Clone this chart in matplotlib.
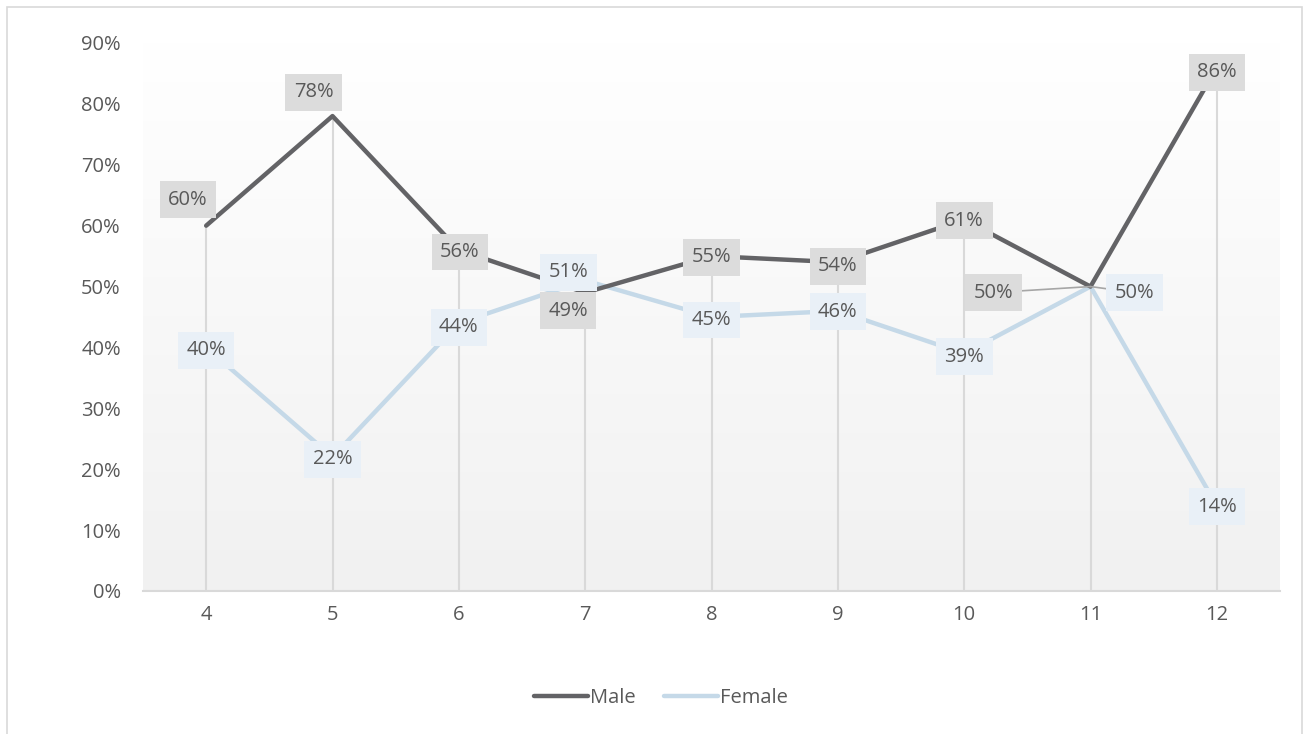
import numpy as np
import matplotlib
matplotlib.use("Agg")
import matplotlib.pyplot as plt
from matplotlib.patches import Rectangle

plt.rcParams["font.family"] = ["Open Sans", "DejaVu Sans"]

grades = [4, 5, 6, 7, 8, 9, 10, 11, 12]
male = [0.60, 0.78, 0.56, 0.49, 0.55, 0.54, 0.61, 0.50, 0.86]
female = [0.40, 0.22, 0.44, 0.51, 0.45, 0.46, 0.39, 0.50, 0.14]

# label offsets in pixels (dx, dy)
male_off = [(-18, 26), (-19, 24), (1, -2), (-17, -18), (0, -1), (0, -4), (0, -1), (-97, -6), (0, -5)]
female_off = [(0, -3), (0, -2), (0, -4), (-17, 8), (0, -3), (0, -1), (0, -3), (44, -6), (0, -1)]

C_MALE, C_FEM = "#636366", "#c5d9e8"
BOX_MALE, BOX_FEM = "#dcdcdc", "#e9f0f7"
TXT = "#595959"
FS = 14.5

fig = plt.figure(figsize=(13.09, 7.34), dpi=100)
fig.patches.append(Rectangle((7 / 1309, -0.1), 1295 / 1309, 1.1 - 7 / 734, transform=fig.transFigure,
                             fill=False, edgecolor="#d9d9d9", linewidth=1.2))
ax = fig.add_axes([143 / 1309, 1 - 591 / 734, 1137 / 1309, 548 / 734])
ax.set_xlim(3.5, 12.5)
ax.set_ylim(0, 0.9)

# plot-area gradient: white at top fading to light grey at bottom
grad = np.linspace(1.0, 0.0, 256).reshape(-1, 1)
top, bot = np.array([1.0, 1.0, 1.0]), np.array([0.945, 0.945, 0.945])
img = bot + (top - bot) * grad[..., None]
ax.imshow(img, extent=[3.5, 12.5, 0, 0.9], aspect="auto", zorder=0)

# drop lines from the higher point of each category
for g, m, f in zip(grades, male, female):
    ax.plot([g, g], [0, max(m, f)], color="#d9d9d9", lw=1.5, zorder=1)

ax.plot(grades, male, color=C_MALE, lw=3.2, solid_capstyle="round", zorder=3, label="Male")
ax.plot(grades, female, color=C_FEM, lw=3.2, solid_capstyle="round", zorder=2, label="Female")

for vals, offs, fc in [(male, male_off, BOX_MALE), (female, female_off, BOX_FEM)]:
    for g, v, (dx, dy) in zip(grades, vals, offs):
        leader = abs(dx) > 40
        ax.annotate(f"{v:.0%}", (g, v), xytext=(dx, dy), textcoords="offset pixels",
                    ha="center", va="center", fontsize=FS, color=TXT, zorder=5,
                    bbox=dict(boxstyle="square,pad=0.42", fc=fc, ec="none"),
                    arrowprops=dict(arrowstyle="-", color="#a6a6a6", lw=1.2,
                                    shrinkA=0, shrinkB=0) if leader else None)

for s in ["top", "right", "left"]:
    ax.spines[s].set_visible(False)
ax.spines["bottom"].set_color("#d9d9d9")
ax.spines["bottom"].set_linewidth(1.5)
ax.set_xticks(grades)
ax.set_yticks(np.arange(0, 0.91, 0.1))
ax.set_yticklabels([f"{int(round(t * 100))}%" for t in np.arange(0, 0.91, 0.1)])
ax.tick_params(length=0, labelsize=FS, colors=TXT, pad=10)
ax.tick_params(axis="y", pad=16)

fig.legend(loc="center", bbox_to_anchor=(0.505, 0.049), ncol=2, frameon=False, fontsize=FS,
           labelcolor=TXT, handlelength=2.7, handletextpad=0.1, columnspacing=1.4)

fig.savefig("out.png", dpi=100)
